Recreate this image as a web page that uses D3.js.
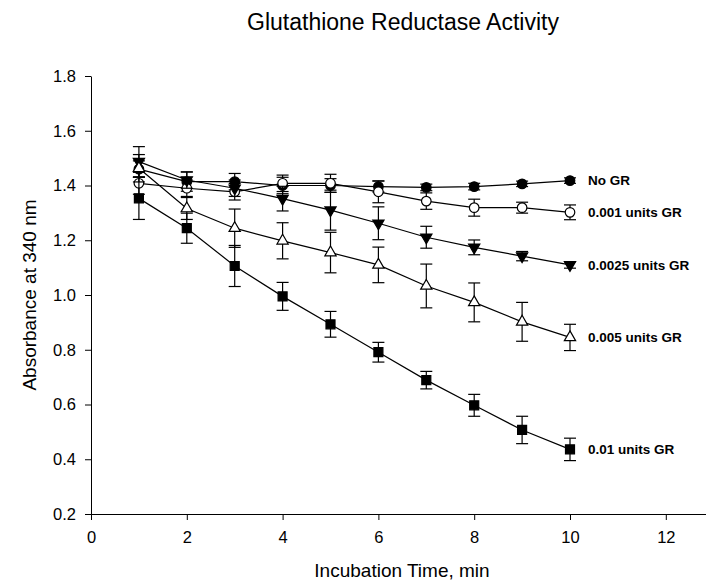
<!DOCTYPE html>
<html>
<head>
<meta charset="UTF-8">
<title>Glutathione Reductase Activity</title>
<script src="https://d3js.org/d3.v7.min.js"></script>
<style>
    body { margin: 0; background: #fff; }
    svg { display: block; font-family: "Liberation Sans", Arial, sans-serif; }
    .axis path, .axis line { stroke: #000; stroke-width: 1px; }
    .axis text { font-size: 16.5px; fill: #000; }
</style>
</head>
<body>
<div id="chart"></div>
<script>
    // tempi (min)
    var time = [1, 2, 3, 4, 5, 6, 7, 8, 9, 10];

    // valori
    var noGR = [1.46, 1.414, 1.414, 1.40, 1.40, 1.396, 1.393, 1.396, 1.406, 1.418];
    var noGRErr = [0.03, 0.035, 0.03, 0.03, 0.025, 0.02, 0.012, 0.012, 0.01, 0.01];
    var gr001 = [1.408, 1.39, 1.377, 1.408, 1.408, 1.377, 1.343, 1.319, 1.319, 1.302];
    var gr001Err = [0.04, 0.03, 0.03, 0.03, 0.033, 0.04, 0.03, 0.031, 0.02, 0.027];
    var gr0025 = [1.487, 1.42, 1.39, 1.352, 1.31, 1.262, 1.211, 1.174, 1.142, 1.110];
    var gr0025Err = [0.055, 0.03, 0.03, 0.045, 0.073, 0.06, 0.04, 0.027, 0.017, 0.012];
    var gr005 = [1.463, 1.316, 1.244, 1.198, 1.155, 1.110, 1.033, 0.973, 0.902, 0.845];
    var gr005Err = [0.05, 0.04, 0.07, 0.066, 0.074, 0.065, 0.08, 0.071, 0.071, 0.048];
    var gr01 = [1.353, 1.244, 1.106, 0.995, 0.893, 0.791, 0.689, 0.597, 0.507, 0.436];
    var gr01Err = [0.077, 0.055, 0.075, 0.051, 0.047, 0.036, 0.032, 0.040, 0.050, 0.041];

    var seriesNames = ["No GR", "0.001 units GR", "0.0025 units GR", "0.005 units GR", "0.01 units GR"];
    var xTicks = [0, 2, 4, 6, 8, 10, 12];
    var yTicks = [0.2, 0.4, 0.6, 0.8, 1.0, 1.2, 1.4, 1.6, 1.8];

    var width = 706;
    var height = 585;

    var svg = d3.select("#chart")
        .append("svg")
        .attr("width", width)
        .attr("height", height);

    svg.append("rect").attr("width", width).attr("height", height).attr("fill", "#fff");

    // scale
    var xScale = d3.scaleLinear().domain([0, 13]).range([91, 91 + 13 * 47.9]);
    var yScale = d3.scaleLinear().domain([0.2, 1.8]).range([514, 76]);

    // assi
    svg.append("g")
        .attr("class", "axis")
        .attr("transform", "translate(0,514)")
        .call(d3.axisBottom(xScale).tickValues(xTicks).tickSize(6).tickSizeOuter(0).tickPadding(11.5).tickFormat(d3.format("d")));

    svg.append("g")
        .attr("class", "axis")
        .attr("transform", "translate(91,0)")
        .call(d3.axisLeft(yScale).tickValues(yTicks).tickSize(6).tickSizeOuter(0).tickPadding(9).tickFormat(d3.format(".1f")));

    // titoli
    svg.append("text")
        .attr("x", 403)
        .attr("y", 29.5)
        .attr("text-anchor", "middle")
        .style("font-size", "23px")
        .text("Glutathione Reductase Activity");

    svg.append("text")
        .attr("x", 402)
        .attr("y", 577)
        .attr("text-anchor", "middle")
        .style("font-size", "19px")
        .text("Incubation Time, min");

    svg.append("text")
        .attr("transform", "translate(36,295) rotate(-90)")
        .attr("text-anchor", "middle")
        .style("font-size", "19px")
        .text("Absorbance at 340 nm");

    // serie
    var series = [
        { name: seriesNames[0], values: noGR, err: noGRErr, symbol: d3.symbolCircle, size: 72, fill: "#000", rot: 0 },
        { name: seriesNames[1], values: gr001, err: gr001Err, symbol: d3.symbolCircle, size: 72, fill: "#fff", rot: 0 },
        { name: seriesNames[2], values: gr0025, err: gr0025Err, symbol: d3.symbolTriangle, size: 55, fill: "#000", rot: 180 },
        { name: seriesNames[3], values: gr005, err: gr005Err, symbol: d3.symbolTriangle, size: 55, fill: "#fff", rot: 0 },
        { name: seriesNames[4], values: gr01, err: gr01Err, symbol: d3.symbolSquare, size: 81, fill: "#000", rot: 0 }
    ];

    var line = d3.line()
        .x(function (d) { return xScale(d.t); })
        .y(function (d) { return yScale(d.v); });

    var capW = 6;

    series.forEach(function (s) {
        var pts = time.map(function (t, i) { return { t: t, v: s.values[i], e: s.err[i] }; });
        var g = svg.append("g");

        // barre di errore
        var eb = g.selectAll(".err").data(pts).enter().append("g").attr("class", "err")
            .style("stroke", "#000").style("stroke-width", "1.2px");
        eb.append("line")
            .attr("x1", function (d) { return xScale(d.t); })
            .attr("x2", function (d) { return xScale(d.t); })
            .attr("y1", function (d) { return yScale(d.v - d.e); })
            .attr("y2", function (d) { return yScale(d.v + d.e); });
        eb.append("line")
            .attr("x1", function (d) { return xScale(d.t) - capW; })
            .attr("x2", function (d) { return xScale(d.t) + capW; })
            .attr("y1", function (d) { return yScale(d.v + d.e); })
            .attr("y2", function (d) { return yScale(d.v + d.e); });
        eb.append("line")
            .attr("x1", function (d) { return xScale(d.t) - capW; })
            .attr("x2", function (d) { return xScale(d.t) + capW; })
            .attr("y1", function (d) { return yScale(d.v - d.e); })
            .attr("y2", function (d) { return yScale(d.v - d.e); });

        g.append("path")
            .datum(pts)
            .attr("d", line)
            .attr("fill", "none")
            .attr("stroke", "#000")
            .attr("stroke-width", 1.2);

        g.selectAll(".pt").data(pts).enter().append("path")
            .attr("class", "pt")
            .attr("d", d3.symbol().type(s.symbol).size(s.size))
            .attr("transform", function (d) {
                return "translate(" + xScale(d.t) + "," + yScale(d.v) + ") rotate(" + s.rot + ")";
            })
            .attr("fill", s.fill)
            .attr("stroke", "#000")
            .attr("stroke-width", 1.2);

        // etichetta della serie
        var last = pts[pts.length - 1];
        svg.append("text")
            .attr("x", xScale(last.t) + 18)
            .attr("y", yScale(last.v))
            .attr("dy", "0.36em")
            .style("font-size", "13.5px")
            .style("font-weight", "bold")
            .text(s.name);
    });
</script>
</body>
</html>
